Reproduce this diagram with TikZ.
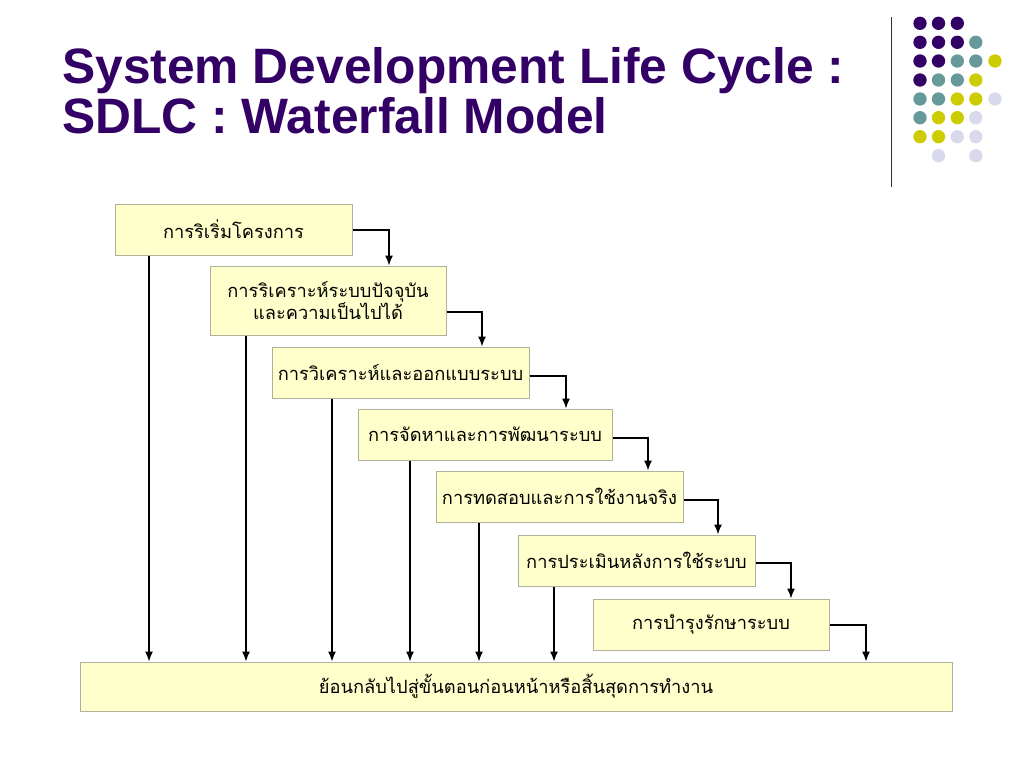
\documentclass[tikz,border=0pt]{standalone}
\usepackage{fontspec}
\setmainfont{Liberation Sans}
\newfontfamily\thai[Script=Thai]{Loma}
\usetikzlibrary{arrows.meta}
\definecolor{ttl}{HTML}{330066}
\definecolor{dP}{HTML}{330066}
\definecolor{dT}{HTML}{669999}
\definecolor{dY}{HTML}{CCCC00}
\definecolor{dL}{HTML}{D9D9EC}
\definecolor{boxfill}{HTML}{FFFFCC}
\definecolor{boxline}{HTML}{B0B09C}
\tikzset{
  stage/.style={draw=boxline, fill=boxfill, line width=0.75pt, inner sep=0pt,
    font=\thai\fontsize{13.7pt}{17pt}\selectfont, align=center},
  arr/.style={line width=1pt, -{Latex[length=7.5pt,width=6pt]}},
  title/.style={anchor=base west, inner sep=0pt, text=ttl,
    font=\bfseries\fontsize{37.3pt}{44pt}\selectfont},
  dot/.style={radius=5pt}
}
\begin{document}
\begin{tikzpicture}[x=0.75pt,y=-0.75pt]
\useasboundingbox (0,0) rectangle (1024,768);
% title
\node[title] (t1) at (62,83) {System Development Life Cycle :};
\node[title] (t2) at (62,133) {SDLC : Waterfall Model};
% decoration
\draw[line width=1.1pt, black!80] (891.5,17) -- (891.5,187);
\foreach \c/\x/\y in {
 dP/920/23.3, dP/938.5/23.3, dP/957.3/23.3,
 dP/920/42.3, dP/938.5/42.3, dP/957.3/42.3, dT/975.8/42.3,
 dP/920/61, dP/938.5/61, dT/957.3/61, dT/975.8/61, dY/995/61,
 dP/920/80, dT/938.5/80, dT/957.3/80, dY/975.8/80,
 dT/920/99, dT/938.5/99, dY/957.3/99, dY/975.8/99, dL/995/99,
 dT/920/117.7, dY/938.5/117.7, dY/957.3/117.7, dL/975.8/117.7,
 dY/920/136.7, dY/938.5/136.7, dL/957.3/136.7, dL/975.8/136.7,
 dL/938.5/155.7, dL/975.8/155.7}
  \fill[\c] (\x,\y) circle[dot];
% stages
\node[stage, minimum width=177.75pt, minimum height=38.25pt] (b1) at (233.5,229.5) {การริเริ่มโครงการ};
\node[stage, minimum width=177pt, minimum height=51.75pt] (b2) at (328,300.5) {การริเคราะห์ระบบปัจจุบัน\\และความเป็นไปได้};
\node[stage, minimum width=192.75pt, minimum height=38.25pt] (b3) at (400.5,372.5) {การวิเคราะห์และออกแบบระบบ};
\node[stage, minimum width=190.5pt, minimum height=38.25pt] (b4) at (485,434.5) {การจัดหาและการพัฒนาระบบ};
\node[stage, minimum width=185.25pt, minimum height=38.25pt] (b5) at (559.5,496.5) {การทดสอบและการใช้งานจริง};
\node[stage, minimum width=177.75pt, minimum height=38.25pt] (b6) at (636.5,560.5) {การประเมินหลังการใช้ระบบ};
\node[stage, minimum width=177pt, minimum height=38.25pt] (b7) at (711,624.5) {การบำรุงรักษาระบบ};
\node[stage, minimum width=654pt, minimum height=36.75pt] (bot) at (516,686.5) {ย้อนกลับไปสู่ขั้นตอนก่อนหน้าหรือสิ้นสุดการทำงาน};
% step connectors
\coordinate (h1) at (0,230);  \coordinate (c1) at (389,0);
\coordinate (h2) at (0,312);  \coordinate (c2) at (482,0);
\coordinate (h3) at (0,376);  \coordinate (c3) at (566,0);
\coordinate (h4) at (0,438);  \coordinate (c4) at (648,0);
\coordinate (h5) at (0,500);  \coordinate (c5) at (718,0);
\coordinate (h6) at (0,563);  \coordinate (c6) at (791,0);
\coordinate (h7) at (0,625);  \coordinate (c7) at (866,0);
\draw[arr] (b1.east |- h1) -| (b2.north -| c1);
\draw[arr] (b2.east |- h2) -| (b3.north -| c2);
\draw[arr] (b3.east |- h3) -| (b4.north -| c3);
\draw[arr] (b4.east |- h4) -| (b5.north -| c4);
\draw[arr] (b5.east |- h5) -| (b6.north -| c5);
\draw[arr] (b6.east |- h6) -| (b7.north -| c6);
\draw[arr] (b7.east |- h7) -| (bot.north -| c7);
% drops
\coordinate (v1) at (149,0);
\coordinate (v2) at (246,0);
\coordinate (v3) at (332,0);
\coordinate (v4) at (410,0);
\coordinate (v5) at (479,0);
\coordinate (v6) at (554,0);
\draw[arr] (b1.south -| v1) -- (bot.north -| v1);
\draw[arr] (b2.south -| v2) -- (bot.north -| v2);
\draw[arr] (b3.south -| v3) -- (bot.north -| v3);
\draw[arr] (b4.south -| v4) -- (bot.north -| v4);
\draw[arr] (b5.south -| v5) -- (bot.north -| v5);
\draw[arr] (b6.south -| v6) -- (bot.north -| v6);
\end{tikzpicture}
\end{document}
